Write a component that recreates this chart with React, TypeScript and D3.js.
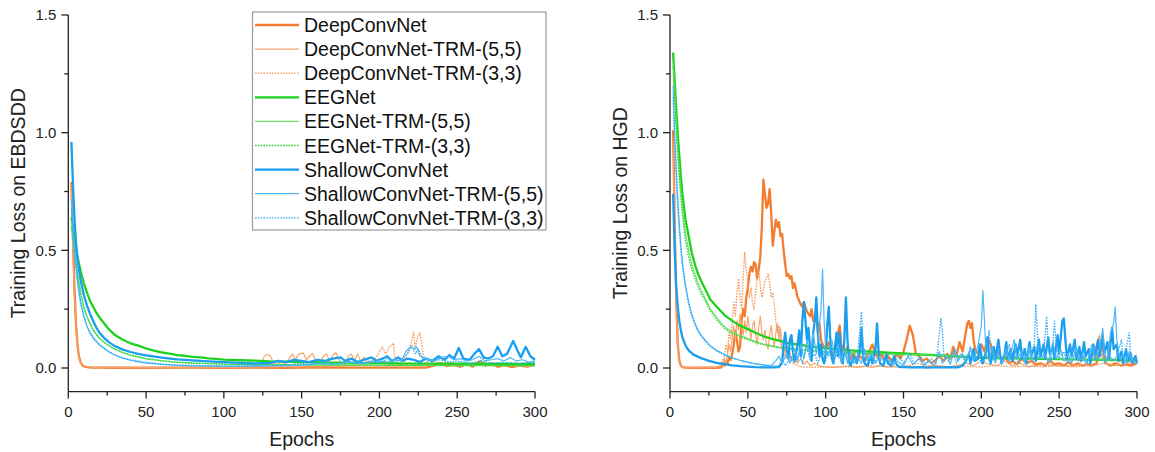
import React from 'react';
import * as d3 from 'd3';

type P = [number, number];

// ---------- tick labels / categories ----------
const EPOCH_TICKS = [0, 50, 100, 150, 200, 250, 300];
const EPOCH_MINOR = [25, 75, 125, 175, 225, 275];
const LOSS_TICKS = [0, 0.5, 1.0, 1.5];
const LOSS_MINOR = [0.25, 0.75, 1.25];
const SERIES_NAMES = [
  'DeepConvNet', 'DeepConvNet-TRM-(5,5)', 'DeepConvNet-TRM-(3,3)',
  'EEGNet', 'EEGNet-TRM-(5,5)', 'EEGNet-TRM-(3,3)',
  'ShallowConvNet', 'ShallowConvNet-TRM-(5,5)', 'ShallowConvNet-TRM-(3,3)',
];

// ---------- EBDSDD (left) ----------
const EB_DEEP: P[] = [[2,0.79],[3,0.55],[4,0.33],[5,0.18],[6,0.09],[7,0.045],[8,0.022],[9,0.012],[10,0.007],[12,0.004],[15,0.002],[20,0.002],[30,0.001],[50,0.001],[80,0.002],[100,0.001],[120,0.002],[140,0.001],[160,0.003],[180,0.002],[200,0.002],[230,0.002],[235,0.01],[240,0.02],[243,0.008],[248,0.015],[252,0.005],[256,0.018],[260,0.006],[265,0.03],[268,0.01],[272,0.02],[276,0.005],[280,0.012],[285,0.004],[290,0.01],[295,0.006],[300,0.015]];
const EB_DEEP55: P[] = [[2,0.75],[3,0.5],[4,0.3],[5,0.16],[6,0.08],[7,0.04],[8,0.02],[10,0.008],[15,0.003],[30,0.002],[60,0.002],[90,0.003],[110,0.003],[120,0.006],[124,0.02],[126,0.05],[128,0.058],[130,0.05],[132,0.02],[134,0.015],[137,0.025],[140,0.015],[142,0.04],[144,0.06],[146,0.035],[148,0.058],[151,0.064],[153,0.035],[155,0.05],[157,0.062],[159,0.03],[162,0.02],[164,0.05],[166,0.06],[168,0.03],[170,0.055],[172,0.065],[174,0.035],[176,0.02],[178,0.015],[180,0.05],[182,0.06],[184,0.03],[186,0.06],[188,0.025],[190,0.045],[192,0.03],[195,0.02],[198,0.025],[200,0.02],[203,0.03],[206,0.015],[210,0.02],[215,0.012],[220,0.02],[225,0.015],[230,0.01],[240,0.012],[250,0.008],[260,0.015],[270,0.01],[280,0.012],[290,0.008],[300,0.01]];
const EB_DEEP33: P[] = [[2,0.78],[3,0.52],[4,0.31],[5,0.17],[6,0.085],[7,0.04],[8,0.02],[10,0.008],[15,0.003],[40,0.002],[80,0.002],[120,0.003],[150,0.004],[170,0.006],[180,0.01],[190,0.015],[195,0.03],[198,0.045],[200,0.07],[202,0.09],[204,0.06],[206,0.085],[208,0.1],[209,0.105],[210,0.04],[212,0.02],[215,0.03],[218,0.06],[220,0.1],[222,0.153],[223,0.08],[224,0.12],[226,0.15],[227,0.11],[228,0.06],[230,0.03],[232,0.02],[235,0.03],[240,0.02],[245,0.025],[250,0.015],[255,0.02],[260,0.01],[265,0.02],[270,0.012],[275,0.02],[280,0.01],[285,0.015],[290,0.01],[300,0.012]];
const EB_EEG: P[] = [[2,0.64],[3,0.6],[4,0.55],[5,0.5],[6,0.47],[7,0.44],[8,0.41],[10,0.36],[12,0.32],[14,0.285],[16,0.26],[18,0.235],[20,0.215],[23,0.19],[26,0.165],[30,0.14],[35,0.12],[40,0.105],[45,0.095],[50,0.083],[55,0.074],[60,0.066],[65,0.061],[70,0.055],[75,0.052],[80,0.047],[85,0.045],[90,0.041],[95,0.039],[100,0.036],[110,0.033],[120,0.031],[130,0.028],[140,0.027],[150,0.025],[160,0.024],[170,0.023],[180,0.023],[190,0.021],[200,0.021],[220,0.019],[240,0.019],[260,0.018],[280,0.017],[300,0.017]];
const EB_EEG55: P[] = [[2,0.62],[3,0.56],[4,0.5],[5,0.45],[6,0.4],[7,0.36],[8,0.32],[10,0.26],[12,0.22],[14,0.19],[16,0.165],[18,0.145],[20,0.128],[23,0.11],[26,0.095],[30,0.08],[35,0.065],[40,0.054],[45,0.046],[50,0.039],[60,0.03],[70,0.024],[80,0.021],[90,0.018],[100,0.016],[120,0.014],[140,0.013],[160,0.012],[180,0.013],[200,0.011],[220,0.012],[240,0.01],[260,0.011],[280,0.01],[300,0.01]];
const EB_EEG33: P[] = [[2,0.6],[3,0.55],[4,0.49],[5,0.44],[6,0.39],[7,0.35],[8,0.31],[10,0.255],[12,0.215],[14,0.185],[16,0.16],[18,0.14],[20,0.125],[23,0.108],[26,0.095],[30,0.08],[35,0.066],[40,0.056],[45,0.048],[50,0.041],[60,0.031],[70,0.025],[80,0.021],[90,0.019],[100,0.017],[120,0.015],[140,0.014],[160,0.013],[180,0.012],[200,0.012],[240,0.011],[270,0.01],[300,0.01]];
const EB_SHAL: P[] = [[2,0.96],[3,0.78],[4,0.63],[5,0.53],[6,0.46],[7,0.41],[8,0.37],[10,0.31],[12,0.265],[14,0.23],[16,0.2],[18,0.172],[20,0.15],[23,0.128],[26,0.11],[30,0.093],[35,0.078],[40,0.068],[45,0.06],[50,0.054],[60,0.044],[70,0.037],[80,0.032],[90,0.028],[100,0.025],[110,0.022],[120,0.02],[130,0.022],[135,0.03],[140,0.025],[145,0.035],[150,0.03],[155,0.025],[160,0.035],[165,0.03],[170,0.04],[175,0.045],[178,0.03],[182,0.04],[186,0.025],[190,0.035],[195,0.045],[198,0.03],[202,0.04],[205,0.05],[208,0.03],[212,0.045],[215,0.03],[218,0.04],[222,0.035],[226,0.025],[230,0.04],[234,0.03],[238,0.05],[242,0.035],[245,0.055],[248,0.04],[251,0.085],[254,0.04],[258,0.035],[261,0.06],[264,0.08],[267,0.045],[270,0.04],[273,0.05],[276,0.09],[279,0.05],[282,0.06],[286,0.115],[289,0.07],[291,0.045],[294,0.09],[297,0.05],[300,0.035]];
const EB_SHAL55: P[] = [[2,0.72],[3,0.6],[4,0.5],[5,0.43],[6,0.37],[7,0.32],[8,0.28],[10,0.22],[12,0.18],[14,0.15],[16,0.13],[18,0.115],[20,0.1],[23,0.085],[26,0.07],[30,0.055],[35,0.042],[40,0.033],[45,0.026],[50,0.021],[60,0.015],[70,0.011],[80,0.009],[100,0.007],[120,0.008],[140,0.01],[150,0.012],[160,0.02],[170,0.015],[180,0.025],[190,0.02],[200,0.03],[205,0.025],[210,0.035],[214,0.03],[217,0.07],[220,0.09],[222,0.08],[224,0.09],[226,0.05],[230,0.04],[235,0.03],[240,0.045],[244,0.05],[248,0.035],[252,0.04],[256,0.03],[260,0.035],[264,0.05],[268,0.03],[272,0.035],[276,0.04],[280,0.03],[284,0.045],[288,0.03],[292,0.035],[296,0.025],[300,0.03]];
const EB_SHAL33: P[] = [[2,0.68],[3,0.57],[4,0.48],[5,0.41],[6,0.36],[7,0.31],[8,0.27],[10,0.215],[12,0.175],[14,0.145],[16,0.125],[18,0.11],[20,0.097],[23,0.082],[26,0.068],[30,0.055],[35,0.043],[40,0.035],[50,0.024],[60,0.017],[70,0.013],[80,0.011],[100,0.009],[120,0.01],[140,0.012],[150,0.02],[155,0.012],[165,0.025],[170,0.015],[180,0.03],[185,0.02],[195,0.03],[200,0.02],[205,0.04],[210,0.025],[215,0.04],[218,0.06],[220,0.085],[221,0.095],[223,0.06],[225,0.08],[228,0.04],[232,0.03],[238,0.035],[245,0.025],[250,0.03],[258,0.02],[265,0.03],[272,0.02],[280,0.025],[290,0.02],[300,0.025]];

// ---------- HGD (right) ----------
const HG_DEEP: P[] = [[2,1.01],[3,0.62],[4,0.3],[5,0.1],[6,0.03],[7,0.01],[8,0.004],[10,0.002],[15,0.001],[20,0.001],[25,0.002],[30,0.001],[33,0.003],[34,0.02],[35,0.01],[36,0.03],[37,0.02],[38,0.045],[39,0.035],[40,0.06],[41,0.1],[42,0.16],[43,0.12],[44,0.07],[45,0.09],[46,0.2],[47,0.25],[48,0.22],[49,0.3],[50,0.34],[51,0.4],[52,0.43],[53,0.41],[54,0.45],[55,0.44],[56,0.38],[57,0.42],[58,0.47],[59,0.6],[60,0.8],[61,0.74],[62,0.68],[63,0.7],[64,0.76],[65,0.66],[66,0.52],[67,0.58],[68,0.63],[69,0.6],[70,0.62],[71,0.56],[72,0.57],[73,0.5],[74,0.44],[75,0.39],[76,0.4],[77,0.38],[78,0.39],[79,0.34],[80,0.36],[81,0.33],[82,0.3],[84,0.27],[85,0.26],[86,0.28],[88,0.24],[90,0.22],[91,0.25],[92,0.2],[94,0.23],[95,0.15],[96,0.19],[97,0.12],[98,0.1],[100,0.08],[102,0.11],[104,0.05],[106,0.08],[108,0.15],[109,0.18],[110,0.1],[112,0.06],[114,0.09],[116,0.04],[118,0.06],[120,0.03],[122,0.05],[125,0.03],[128,0.07],[130,0.1],[132,0.06],[134,0.04],[136,0.06],[138,0.03],[140,0.05],[143,0.03],[146,0.06],[148,0.04],[150,0.07],[152,0.12],[154,0.18],[156,0.14],[158,0.06],[160,0.05],[162,0.03],[165,0.04],[168,0.02],[170,0.03],[173,0.05],[176,0.03],[178,0.06],[180,0.04],[182,0.09],[184,0.05],[186,0.11],[188,0.07],[190,0.15],[191,0.19],[192,0.2],[193,0.17],[194,0.19],[195,0.12],[196,0.08],[198,0.06],[200,0.1],[202,0.07],[204,0.13],[206,0.1],[207,0.06],[209,0.04],[211,0.07],[213,0.03],[215,0.05],[218,0.02],[220,0.03],[223,0.015],[226,0.04],[229,0.02],[232,0.03],[235,0.015],[238,0.02],[241,0.01],[244,0.03],[247,0.015],[250,0.02],[253,0.01],[256,0.025],[259,0.01],[262,0.02],[265,0.01],[268,0.015],[271,0.01],[274,0.02],[277,0.12],[278,0.08],[280,0.02],[283,0.01],[286,0.02],[290,0.01],[293,0.015],[296,0.01],[300,0.02]];
const HG_DEEP55: P[] = [[2,0.95],[3,0.55],[4,0.25],[5,0.08],[6,0.025],[7,0.008],[8,0.004],[10,0.002],[20,0.002],[30,0.003],[33,0.01],[35,0.04],[36,0.02],[37,0.06],[38,0.1],[39,0.07],[40,0.13],[41,0.18],[42,0.12],[43,0.2],[44,0.16],[45,0.23],[46,0.18],[47,0.14],[48,0.2],[49,0.15],[50,0.22],[51,0.17],[52,0.12],[53,0.18],[54,0.2],[55,0.14],[56,0.1],[57,0.17],[58,0.22],[59,0.15],[60,0.12],[61,0.16],[62,0.1],[63,0.08],[64,0.14],[65,0.18],[66,0.13],[67,0.09],[68,0.15],[69,0.19],[70,0.12],[71,0.17],[72,0.08],[73,0.05],[74,0.09],[75,0.04],[77,0.07],[78,0.03],[80,0.05],[82,0.02],[84,0.04],[86,0.015],[88,0.03],[90,0.01],[93,0.02],[96,0.008],[100,0.005],[105,0.003],[110,0.005],[115,0.01],[120,0.004],[125,0.008],[130,0.003],[135,0.01],[140,0.005],[150,0.008],[160,0.003],[170,0.01],[180,0.005],[190,0.02],[195,0.01],[200,0.03],[205,0.015],[210,0.01],[215,0.03],[220,0.01],[225,0.02],[230,0.005],[240,0.015],[250,0.008],[260,0.01],[270,0.02],[276,0.14],[277,0.06],[280,0.02],[285,0.01],[290,0.015],[295,0.02],[300,0.04]];
const HG_DEEP33: P[] = [[2,0.98],[3,0.6],[4,0.28],[5,0.09],[6,0.03],[7,0.01],[8,0.004],[10,0.002],[20,0.002],[30,0.003],[33,0.02],[35,0.05],[36,0.1],[37,0.07],[38,0.15],[39,0.12],[40,0.2],[41,0.28],[42,0.22],[43,0.32],[44,0.38],[45,0.3],[46,0.25],[47,0.38],[48,0.49],[49,0.42],[50,0.36],[51,0.3],[52,0.34],[53,0.28],[54,0.25],[55,0.32],[56,0.38],[57,0.42],[58,0.35],[59,0.3],[60,0.33],[61,0.37],[62,0.38],[63,0.4],[64,0.36],[65,0.3],[66,0.32],[67,0.27],[68,0.2],[69,0.15],[70,0.18],[71,0.12],[72,0.08],[73,0.06],[75,0.04],[77,0.05],[79,0.02],[82,0.01],[85,0.005],[90,0.003],[100,0.004],[110,0.006],[120,0.003],[130,0.01],[140,0.004],[150,0.006],[160,0.02],[163,0.008],[170,0.01],[180,0.005],[190,0.008],[200,0.004],[210,0.01],[220,0.005],[230,0.008],[240,0.005],[250,0.01],[260,0.005],[270,0.01],[280,0.02],[285,0.01],[290,0.03],[295,0.02],[300,0.06]];
const HG_EEG: P[] = [[2,1.34],[3,1.22],[4,1.1],[5,0.99],[6,0.9],[7,0.81],[8,0.74],[9,0.68],[10,0.63],[12,0.56],[14,0.49],[16,0.44],[18,0.4],[20,0.37],[23,0.33],[26,0.29],[30,0.26],[35,0.225],[40,0.2],[45,0.18],[50,0.165],[55,0.15],[60,0.135],[65,0.125],[70,0.116],[75,0.108],[80,0.102],[90,0.092],[100,0.084],[110,0.078],[120,0.073],[130,0.069],[140,0.065],[150,0.062],[160,0.058],[170,0.055],[180,0.051],[190,0.047],[200,0.043],[210,0.042],[220,0.041],[230,0.04],[240,0.039],[250,0.038],[260,0.037],[270,0.036],[280,0.035],[290,0.034],[300,0.033]];
const HG_EEG55: P[] = [[2,1.3],[3,1.17],[4,1.04],[5,0.93],[6,0.83],[7,0.75],[8,0.68],[9,0.62],[10,0.57],[12,0.5],[14,0.44],[16,0.4],[18,0.36],[20,0.33],[23,0.29],[26,0.25],[30,0.215],[35,0.175],[40,0.152],[45,0.138],[50,0.125],[55,0.112],[60,0.102],[65,0.095],[70,0.089],[80,0.081],[90,0.075],[100,0.07],[110,0.067],[120,0.064],[140,0.06],[160,0.056],[180,0.052],[200,0.048],[220,0.044],[240,0.041],[260,0.038],[280,0.035],[300,0.032]];
const HG_EEG33: P[] = [[2,1.28],[3,1.14],[4,1.01],[5,0.9],[6,0.8],[7,0.72],[8,0.65],[9,0.59],[10,0.54],[12,0.47],[14,0.42],[16,0.38],[18,0.345],[20,0.315],[23,0.28],[26,0.24],[30,0.205],[35,0.168],[40,0.147],[45,0.133],[50,0.12],[55,0.108],[60,0.099],[65,0.092],[70,0.086],[80,0.078],[90,0.072],[100,0.068],[120,0.062],[140,0.058],[160,0.054],[180,0.05],[200,0.046],[220,0.043],[240,0.04],[260,0.037],[280,0.034],[300,0.031]];
const HG_SHAL: P[] = [[2,0.74],[3,0.5],[4,0.35],[5,0.26],[6,0.2],[7,0.16],[8,0.13],[10,0.095],[12,0.075],[15,0.057],[20,0.042],[25,0.03],[30,0.022],[35,0.016],[40,0.011],[45,0.008],[50,0.006],[55,0.004],[60,0.003],[65,0.003],[70,0.004],[72,0.02],[73,0.1],[74,0.15],[75,0.08],[76,0.04],[77,0.12],[78,0.14],[79,0.07],[80,0.03],[82,0.1],[83,0.16],[84,0.05],[85,0.2],[86,0.28],[87,0.2],[88,0.12],[89,0.17],[90,0.08],[91,0.03],[92,0.15],[93,0.2],[94,0.3],[95,0.15],[96,0.05],[97,0.1],[98,0.04],[99,0.02],[100,0.06],[101,0.18],[102,0.26],[103,0.12],[104,0.04],[105,0.02],[106,0.09],[107,0.15],[108,0.05],[109,0.15],[110,0.04],[111,0.02],[112,0.12],[113,0.3],[114,0.12],[115,0.03],[116,0.01],[118,0.05],[120,0.02],[122,0.08],[123,0.17],[124,0.06],[125,0.02],[127,0.01],[129,0.05],[130,0.02],[132,0.08],[133,0.19],[134,0.07],[135,0.02],[137,0.01],[139,0.06],[140,0.02],[142,0.01],[144,0.05],[145,0.02],[147,0.005],[150,0.004],[155,0.003],[160,0.004],[165,0.002],[170,0.003],[175,0.003],[180,0.004],[185,0.003],[188,0.01],[190,0.03],[192,0.06],[193,0.02],[195,0.08],[196,0.03],[198,0.04],[199,0.1],[200,0.05],[201,0.02],[203,0.07],[204,0.13],[205,0.05],[206,0.02],[208,0.09],[209,0.04],[211,0.12],[212,0.06],[213,0.02],[215,0.06],[216,0.11],[217,0.04],[219,0.08],[220,0.03],[222,0.1],[223,0.05],[225,0.12],[226,0.04],[228,0.08],[229,0.02],[231,0.11],[232,0.05],[234,0.09],[235,0.03],[237,0.12],[238,0.05],[240,0.1],[241,0.04],[243,0.13],[244,0.06],[246,0.09],[247,0.04],[249,0.14],[250,0.06],[252,0.2],[253,0.21],[254,0.12],[255,0.04],[257,0.1],[258,0.05],[260,0.12],[261,0.04],[263,0.09],[264,0.03],[266,0.11],[267,0.05],[269,0.08],[270,0.02],[272,0.1],[273,0.04],[275,0.12],[276,0.05],[278,0.14],[279,0.06],[281,0.11],[282,0.04],[284,0.17],[285,0.08],[287,0.1],[288,0.03],[290,0.07],[291,0.02],[293,0.08],[294,0.03],[296,0.06],[297,0.02],[299,0.05],[300,0.02]];
const HG_SHAL55: P[] = [[2,1.2],[3,1.0],[4,0.85],[5,0.72],[6,0.61],[7,0.52],[8,0.45],[10,0.35],[12,0.28],[14,0.23],[16,0.19],[18,0.16],[20,0.14],[23,0.115],[26,0.095],[30,0.075],[35,0.057],[40,0.043],[45,0.033],[50,0.025],[55,0.018],[60,0.013],[65,0.01],[68,0.03],[70,0.05],[72,0.02],[75,0.06],[77,0.02],[80,0.08],[82,0.03],[84,0.1],[86,0.04],[88,0.12],[90,0.05],[92,0.15],[94,0.06],[96,0.18],[97,0.25],[98,0.42],[99,0.2],[100,0.08],[102,0.05],[104,0.12],[106,0.04],[108,0.1],[110,0.03],[112,0.08],[114,0.02],[116,0.07],[118,0.02],[120,0.05],[123,0.02],[125,0.08],[127,0.03],[130,0.06],[132,0.02],[135,0.05],[138,0.02],[140,0.04],[143,0.01],[146,0.03],[150,0.01],[153,0.05],[156,0.015],[160,0.04],[163,0.01],[166,0.03],[170,0.01],[173,0.07],[175,0.02],[178,0.05],[180,0.015],[183,0.08],[185,0.03],[188,0.06],[190,0.02],[193,0.09],[195,0.03],[198,0.1],[200,0.18],[201,0.33],[202,0.2],[203,0.06],[205,0.03],[207,0.09],[209,0.02],[211,0.06],[213,0.02],[216,0.08],[218,0.03],[221,0.12],[223,0.04],[226,0.07],[228,0.02],[231,0.09],[233,0.03],[236,0.1],[238,0.04],[241,0.06],[243,0.02],[246,0.11],[248,0.04],[251,0.08],[253,0.03],[256,0.06],[258,0.02],[261,0.09],[263,0.03],[266,0.05],[268,0.02],[271,0.1],[273,0.04],[276,0.08],[278,0.17],[279,0.06],[281,0.03],[283,0.15],[285,0.19],[286,0.26],[287,0.12],[289,0.04],[291,0.06],[293,0.02],[295,0.07],[297,0.03],[300,0.02]];
const HG_SHAL33: P[] = [[2,1.15],[3,0.95],[4,0.8],[5,0.68],[6,0.58],[7,0.5],[8,0.43],[10,0.34],[12,0.27],[14,0.22],[16,0.185],[18,0.155],[20,0.135],[23,0.11],[26,0.09],[30,0.072],[35,0.055],[40,0.042],[45,0.032],[50,0.024],[55,0.017],[60,0.012],[65,0.008],[70,0.01],[72,0.04],[74,0.01],[78,0.05],[80,0.02],[83,0.07],[85,0.02],[88,0.09],[90,0.03],[93,0.06],[95,0.02],[98,0.08],[100,0.03],[103,0.1],[105,0.03],[108,0.07],[110,0.02],[113,0.06],[115,0.02],[118,0.05],[120,0.02],[123,0.24],[124,0.1],[126,0.03],[129,0.06],[131,0.02],[134,0.05],[136,0.01],[140,0.04],[143,0.015],[147,0.05],[150,0.02],[154,0.06],[157,0.02],[161,0.05],[164,0.015],[168,0.04],[171,0.02],[174,0.21],[175,0.15],[176,0.05],[179,0.03],[182,0.07],[184,0.02],[187,0.06],[190,0.02],[193,0.08],[195,0.03],[198,0.06],[200,0.02],[203,0.05],[205,0.16],[206,0.08],[208,0.03],[211,0.07],[213,0.02],[216,0.06],[218,0.1],[219,0.03],[222,0.05],[224,0.02],[227,0.08],[229,0.03],[232,0.06],[234,0.1],[235,0.27],[236,0.15],[237,0.04],[240,0.06],[242,0.22],[243,0.08],[245,0.03],[247,0.2],[248,0.1],[250,0.04],[253,0.07],[255,0.02],[258,0.05],[260,0.1],[262,0.03],[265,0.06],[267,0.02],[270,0.05],[272,0.09],[274,0.03],[277,0.06],[279,0.02],[282,0.07],[284,0.03],[287,0.05],[290,0.12],[291,0.04],[293,0.08],[295,0.15],[296,0.05],[298,0.03],[300,0.05]];

const EB_SERIES = [EB_DEEP, EB_DEEP55, EB_DEEP33, EB_EEG, EB_EEG55, EB_EEG33, EB_SHAL, EB_SHAL55, EB_SHAL33];
const HG_SERIES = [HG_DEEP, HG_DEEP55, HG_DEEP33, HG_EEG, HG_EEG55, HG_EEG33, HG_SHAL, HG_SHAL55, HG_SHAL33];

// ---------- styles ----------
const STYLES = [
  { color: '#F47D2D', width: 2.3, dash: '' },
  { color: '#F7A66F', width: 1.2, dash: '' },
  { color: '#F39A5E', width: 1.3, dash: '1.6,1.2' },
  { color: '#1FD11F', width: 2.3, dash: '' },
  { color: '#6EE06E', width: 1.2, dash: '' },
  { color: '#33D433', width: 1.3, dash: '1.6,1.2' },
  { color: '#1A9EF0', width: 2.3, dash: '' },
  { color: '#4DB8F6', width: 1.2, dash: '' },
  { color: '#38AEF4', width: 1.3, dash: '1.6,1.2' },
];

const FONT = '"Liberation Sans", Arial, Helvetica, sans-serif';
const AXIS = '#222';

type PanelProps = { x0: number; x1: number; title: string; series: P[][] };

function Panel({ x0, x1, title, series }: PanelProps) {
  const x = d3.scaleLinear().domain([0, 300]).range([x0, x1]);
  const y = d3.scaleLinear().domain([0, 1.5]).range([368, 15]);
  const yBottom = y(-0.1);
  const line = d3.line<P>().x(d => x(d[0])).y(d => y(d[1]));
  return (
    <g>
      {series.map((s, i) => (
        <path key={i} d={line(s) || ''} fill="none" stroke={STYLES[i].color}
          strokeWidth={STYLES[i].width} strokeDasharray={STYLES[i].dash || undefined}
          strokeLinejoin="round" />
      ))}
      <line x1={x0} x2={x0} y1={y(1.5)} y2={yBottom} stroke={AXIS} strokeWidth={1.3} />
      <line x1={x0} x2={x1} y1={yBottom} y2={yBottom} stroke={AXIS} strokeWidth={1.3} />
      {LOSS_TICKS.map(t => (
        <g key={'yt' + t}>
          <line x1={x0 - 7} x2={x0} y1={y(t)} y2={y(t)} stroke={AXIS} strokeWidth={1.3} />
          <text x={x0 - 12} y={y(t) + 5.3} textAnchor="end" fontSize={15} fill={AXIS} fontFamily={FONT}>{t.toFixed(1)}</text>
        </g>
      ))}
      {LOSS_MINOR.map(t => (
        <line key={'ym' + t} x1={x0 - 4} x2={x0} y1={y(t)} y2={y(t)} stroke={AXIS} strokeWidth={1.3} />
      ))}
      {EPOCH_TICKS.map(t => (
        <g key={'xt' + t}>
          <line x1={x(t)} x2={x(t)} y1={yBottom} y2={yBottom + 7} stroke={AXIS} strokeWidth={1.3} />
          <text x={x(t)} y={417} textAnchor="middle" fontSize={15} fill={AXIS} fontFamily={FONT}>{t}</text>
        </g>
      ))}
      {EPOCH_MINOR.map(t => (
        <line key={'xm' + t} x1={x(t)} x2={x(t)} y1={yBottom} y2={yBottom + 4} stroke={AXIS} strokeWidth={1.3} />
      ))}
      <text x={(x0 + x1) / 2} y={446} textAnchor="middle" fontSize={19.5} fill={AXIS} fontFamily={FONT}>Epochs</text>
      <text transform={`translate(${x0 - 43},${(y(1.5) + yBottom) / 2}) rotate(-90)`} textAnchor="middle"
        fontSize={19.5} fill={AXIS} fontFamily={FONT}>{title}</text>
    </g>
  );
}

function Legend() {
  const top = 12, left = 252.5, w = 293.5, h = 218;
  const rowY = (i: number) => 25 + i * 24.1;
  return (
    <g>
      <rect x={left} y={top} width={w} height={h} fill="#fff" stroke="#9a9a9a" strokeWidth={1.2} />
      {SERIES_NAMES.map((n, i) => (
        <g key={n}>
          <line x1={255} x2={299} y1={rowY(i)} y2={rowY(i)} stroke={STYLES[i].color}
            strokeWidth={STYLES[i].width} strokeDasharray={STYLES[i].dash || undefined} />
          <text x={304} y={rowY(i) + 7} fontSize={19.5} fill="#111" fontFamily={FONT}>{n}</text>
        </g>
      ))}
    </g>
  );
}

export default function App() {
  return (
    <svg width={1155} height={452} style={{ position: 'absolute', left: 0, top: 0, background: '#fff' }}>
      <rect x={0} y={0} width={1155} height={452} fill="#fff" />
      <Panel x0={68.3} x1={535} title="Training Loss on EBDSDD" series={EB_SERIES} />
      <Legend />
      <Panel x0={670} x1={1137} title="Training Loss on HGD" series={HG_SERIES} />
    </svg>
  );
}
